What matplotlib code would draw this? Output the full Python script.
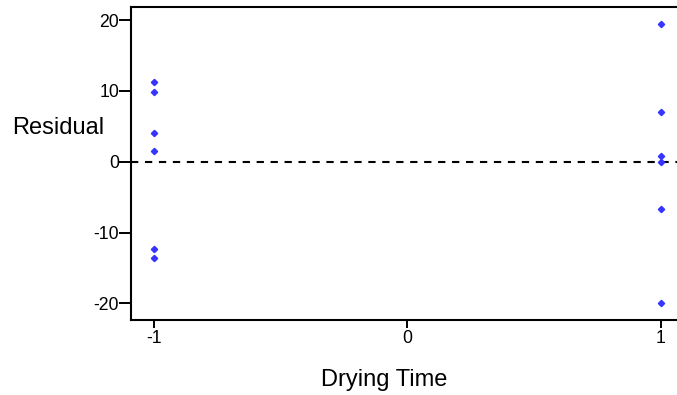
import matplotlib
matplotlib.use("Agg")
from matplotlib import pyplot as plt

plt.rcParams['font.family'] = ['Liberation Sans', 'DejaVu Sans']

# residuals, one column per drying time level
left_level = -1
left_resid = [11.2, 9.9, 4.0, 1.5, -12.3, -13.6]
right_level = 1
right_resid = [19.5, 7.0, 0.8, 0.0, -6.7, -20.0]

x_ticks = [-1, 0, 1]
y_ticks = [-20, -10, 0, 10, 20]

W, H = 677, 395
fig = plt.figure(figsize=(W / 100, H / 100), dpi=100)
ax = fig.add_axes([131 / W, 1 - 319.5 / H, 1 - 131 / W, (319.5 - 7) / H])

xs = [left_level] * len(left_resid) + [right_level] * len(right_resid)
ys = left_resid + right_resid
ax.plot(xs, ys, 'D', color='#3535ff', mec='#3535ff', ms=3.2, ls='none', zorder=3)

ax.axhline(0, color='black', lw=1.5, dashes=(3.5, 3.2), zorder=2)

ax.set_xlim(-1.089, 1.063)
ax.set_ylim(-22.26, 21.84)
ax.set_xticks(x_ticks)
ax.set_xticklabels([str(v) for v in x_ticks])
ax.set_yticks(y_ticks)
ax.set_yticklabels([str(v) for v in y_ticks])

for s in ['left', 'bottom', 'top']:
    ax.spines[s].set_linewidth(1.5)
ax.spines['right'].set_visible(False)

ax.tick_params(axis='y', direction='out', length=8.6, width=1.4, pad=0, labelsize=12.7)
ax.tick_params(axis='x', direction='out', length=5.8, width=1.4, pad=2, labelsize=12.7)

fig.text(12 / W, 1 - 134 / H, "Residual", ha='left', va='baseline', fontsize=17)
fig.text(384 / W, 1 - 386 / H, "Drying Time", ha='center', va='baseline', fontsize=17)

fig.savefig("out.png", dpi=100)
